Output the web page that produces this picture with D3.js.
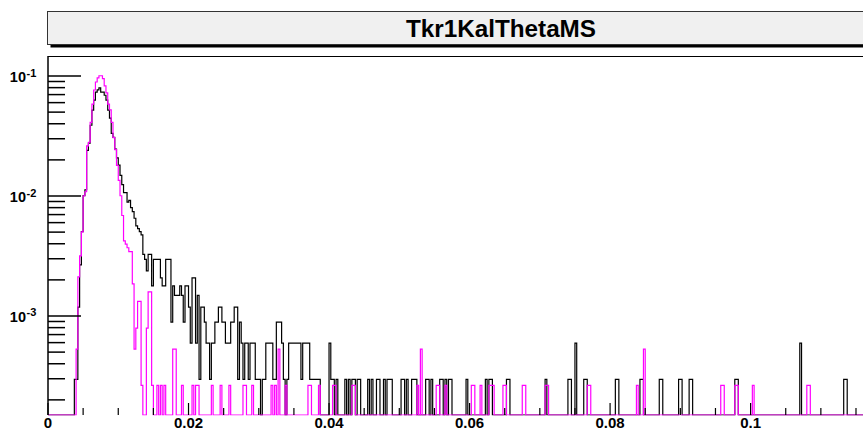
<!DOCTYPE html>
<html>
<head>
<meta charset="utf-8">
<script src="https://cdn.jsdelivr.net/npm/d3@7"></script>
<style>
  html, body { margin: 0; padding: 0; background: #fff; }
  svg { display: block; }
  text { font-family: "Liberation Sans", Arial, Helvetica, sans-serif; font-weight: bold; }
</style>
</head>
<body>
<svg id="chart" width="863" height="430"></svg>
<script>
// Histogram binning: 500 bins on [0, 0.125]
const xLow = 0, xHigh = 0.125, nBins = 500;

// Black series: dense counts from bin 15, then sparse [bin, count] tail
const blackStart = 15;
const blackCounts = [
  1, 1, 4, 9, 17, 34, 38, 81, 93, 131,
  175, 212, 247, 258, 268, 247, 247, 233, 212, 175,
  150, 112, 104, 83, 70, 61, 50, 42, 36, 36,
  30, 31, 27, 25, 22, 19, 18, 17, 16, 11,
  10, 8, 11, 11, 6, 10, 10, 10, 10, 7,
  6, 6, 10, 10, 10, 3, 6, 5, 5, 5,
  6, 5, 3, 6, 6, 4, 2, 7, 7, 2,
  5, 1, 4, 4, 3, 2, 2, 1, 2, 2,
  3, 3, 4, 4, 3, 3, 2, 2, 2, 3,
  3, 4, 4, 1, 3, 2, 1, 2, 2, 1
];
const blackTail = [
  [115,2],[116,2],[117,2],[118,1],[119,1],[120,1],[122,1],[123,1],[124,2],[125,2],
  [126,2],[127,2],[128,1],[129,1],[130,3],[131,3],[132,3],[133,2],[134,1],[136,1],
  [137,2],[138,2],[139,2],[140,2],[141,2],[142,2],[143,2],[144,1],[145,2],[146,2],
  [147,2],[148,2],[149,1],[150,1],[151,1],[152,1],[153,1],[154,1],[160,2],[161,1],
  [162,1],[164,1],[169,1],[171,1],[173,1],[174,1],[176,1],[177,1],[182,1],[184,1],
  [187,1],[188,1],[191,1],[193,1],[194,1],[195,1],[201,1],[202,1],[204,1],[207,1],
  [208,1],[209,1],[215,1],[216,1],[218,1],[223,1],[224,1],[226,1],[228,1],[229,1],
  [238,1],[249,1],[251,1],[252,1],[261,1],[262,1],[283,1],[296,1],[297,1],[300,2],
  [305,1],[306,1],[323,1],[324,1],[337,1],[338,1],[348,1],[349,1],[359,1],[360,1],
  [365,1],[366,1],[391,1],[392,1],[428,2],[453,1],[454,1]
];

// Magenta series: dense counts from bin 16, then sparse tail
const magentaStart = 16;
const magentaCounts = [
  2, 8, 12, 19, 38, 41, 99, 106, 155, 220,
  289, 337, 364, 380, 380, 359, 313, 273, 220, 197,
  155, 116, 92, 68, 51, 38, 26, 16, 15, 14,
  13, 13, 7, 2, 3, 5, 5, 1, 0, 0,
  3, 6, 6, 1
];
const magentaTail = [
  [62,1],[64,1],[66,1],[71,2],[72,2],[76,1],[82,1],[84,1],[85,1],[93,1],
  [98,1],[103,1],[111,1],[112,1],[116,1],[127,1],[129,1],[131,2],[135,1],[148,1],
  [149,1],[154,1],[162,1],[163,1],[173,1],[174,1],[210,1],[212,2],[221,1],[222,1],
  [226,1],[241,1],[242,1],[246,1],[251,1],[252,1],[253,1],[259,1],[260,1],[270,1],
  [271,1],[283,1],[284,1],[307,1],[308,1],[335,1],[339,2],[383,1],[384,1],[391,1],
  [392,1],[401,1],[432,1],[433,1]
];

// Normalisation (entries) for each series
const blackEntries = 3370;
const magentaEntries = 3780;

// Axis labels
const xTickValues = [0, 0.02, 0.04, 0.06, 0.08, 0.1];
const yDecades = [1e-3, 1e-2, 1e-1];
const yDecadeExponents = ["-3", "-2", "-1"];
const titleText = "Tkr1KalThetaMS";

// ---------- layout ----------
const frame = { left: 48, top: 56, right: 926.25, bottom: 415 };
const yMin = 1.496e-4, yMax = 0.1468;

const svg = d3.select("#chart");

const x = d3.scaleLinear().domain([xLow, xHigh]).range([frame.left, frame.right]);
const y = d3.scaleLog().domain([yMin, yMax]).range([frame.bottom, frame.top]);

function buildBins(start, dense, tail, entries) {
  const counts = new Array(nBins).fill(0);
  dense.forEach((c, i) => { counts[start + i] = c; });
  tail.forEach(([b, c]) => { counts[b] = c; });
  return counts.map(c => c / entries);
}
const blackVals = buildBins(blackStart, blackCounts, blackTail, blackEntries);
const magentaVals = buildBins(magentaStart, magentaCounts, magentaTail, magentaEntries);

const binW = (xHigh - xLow) / nBins;
function stepPoints(vals) {
  const pts = vals.map((v, i) => [xLow + i * binW, v]);
  pts.push([xHigh, vals[vals.length - 1]]);
  return pts;
}

// ---------- title box ----------
const tb = { x: 47.5, y: 11.5, w: 880, h: 33 };
svg.append("rect")
  .attr("x", tb.x + 3).attr("y", tb.y + 3).attr("width", tb.w).attr("height", tb.h)
  .attr("fill", "#000");
svg.append("rect")
  .attr("x", tb.x).attr("y", tb.y).attr("width", tb.w).attr("height", tb.h)
  .attr("fill", "#f0f0f0").attr("stroke", "#333").attr("stroke-width", 1);
svg.append("text")
  .attr("x", 501).attr("y", 37)
  .attr("text-anchor", "middle")
  .attr("font-size", 24)
  .attr("textLength", 190).attr("lengthAdjust", "spacingAndGlyphs")
  .attr("fill", "#000")
  .text(titleText);

// ---------- frame ----------
svg.append("rect")
  .attr("x", frame.left).attr("y", frame.top)
  .attr("width", frame.right - frame.left).attr("height", frame.bottom - frame.top)
  .attr("fill", "#fff");

svg.append("defs").append("clipPath").attr("id", "plotClip")
  .append("rect")
  .attr("x", frame.left).attr("y", frame.top - 1)
  .attr("width", frame.right - frame.left).attr("height", frame.bottom - frame.top + 1.5);

const line = d3.line()
  .x(d => x(d[0]))
  .y(d => d[1] > 0 ? y(d[1]) : frame.bottom)
  .curve(d3.curveStepAfter);

const plot = svg.append("g").attr("clip-path", "url(#plotClip)");

// y ticks (into the frame)
const yTicks = [];
for (let e = -4; e <= -1; e++) {
  for (let m = 1; m <= 9; m++) {
    const v = m * Math.pow(10, e);
    if (v >= yMin && v <= yMax) yTicks.push({ v, major: m === 1 });
  }
}
svg.append("g").selectAll("line").data(yTicks).join("line")
  .attr("x1", frame.left).attr("x2", d => frame.left + (d.major ? 33 : 17))
  .attr("y1", d => y(d.v)).attr("y2", d => y(d.v))
  .attr("stroke", "#000").attr("stroke-width", 1.5);

// x ticks (upwards into the frame)
const xMinor = d3.range(0, 0.1251, 0.005);
svg.append("g").selectAll("line").data(xMinor).join("line")
  .attr("x1", d => x(d)).attr("x2", d => x(d))
  .attr("y1", frame.bottom)
  .attr("y2", d => frame.bottom - (Math.abs(d / 0.02 - Math.round(d / 0.02)) < 1e-6 ? 12 : 7))
  .attr("stroke", "#000").attr("stroke-width", 1.2);

// histograms
plot.append("path")
  .attr("d", line(stepPoints(blackVals)))
  .attr("fill", "none").attr("stroke", "#000").attr("stroke-width", 1.2);
plot.append("path")
  .attr("d", line(stepPoints(magentaVals)))
  .attr("fill", "none").attr("stroke", "#ff00ff").attr("stroke-width", 1.2);

// frame edges
svg.append("line")
  .attr("x1", frame.left).attr("x2", frame.right)
  .attr("y1", frame.top + 0.5).attr("y2", frame.top + 0.5)
  .attr("stroke", "#000").attr("stroke-width", 1);
svg.append("line")
  .attr("x1", frame.left).attr("x2", frame.left)
  .attr("y1", frame.top).attr("y2", frame.bottom)
  .attr("stroke", "#000").attr("stroke-width", 1.5);

// x labels
svg.append("g").selectAll("text").data(xTickValues).join("text")
  .attr("x", d => x(d)).attr("y", 428)
  .attr("text-anchor", "middle").attr("font-size", 15).attr("fill", "#000")
  .text(d => d === 0 ? "0" : d3.format(".2~f")(d));

// y labels: 10 with superscript exponent
const yl = svg.append("g").selectAll("g").data(yDecades).join("g");
yl.append("text")
  .attr("x", 26).attr("y", d => y(d) + 6)
  .attr("text-anchor", "end").attr("font-size", 14.5).attr("fill", "#000")
  .text("10");
yl.append("text")
  .attr("x", 26.5).attr("y", d => y(d) + 0.5)
  .attr("font-size", 11).attr("fill", "#000")
  .text((d, i) => yDecadeExponents[i]);
</script>
</body>
</html>
